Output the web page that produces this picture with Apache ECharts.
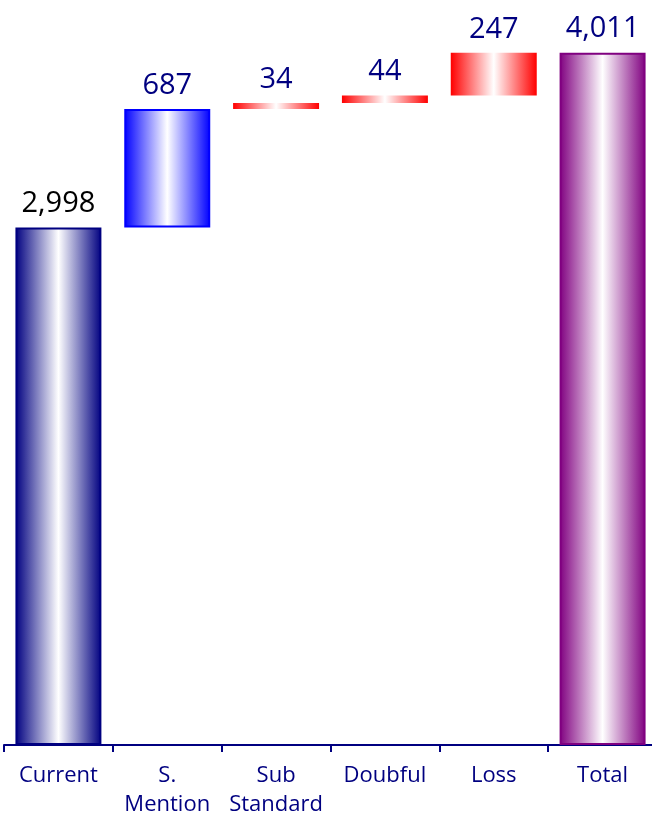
<!DOCTYPE html>
<html>
<head>
<meta charset="utf-8">
<style>
  html, body { margin: 0; padding: 0; background: #ffffff; }
  #chart { width: 652px; height: 818px; }
</style>
<script src="https://cdn.jsdelivr.net/npm/echarts@6/dist/echarts.min.js"></script>
</head>
<body>
<div id="chart"></div>
<script>
// Waterfall of classified loans
const categories = ['Current', 'S.\nMention', 'Sub\nStandard', 'Doubful', 'Loss', 'Total'];
const values = [2998, 687, 34, 44, 247, 4011];
const barColors = ['#000080', '#0000ff', '#ff0000', '#ff0000', '#ff0000', '#800080'];
const borderColors = ['#000080', '#0000ff', null, null, null, '#800080'];
const labelColors = ['#000000', '#000080', '#000080', '#000080', '#000080', '#000080'];

// Invisible base: running total for the middle steps, zero for the first and last bars
const base = [];
let running = 0;
values.forEach((v, i) => {
  if (i === 0 || i === values.length - 1) {
    base.push(0);
  } else {
    base.push(running);
  }
  if (i < values.length - 1) running += v;
});

function shade(c) {
  return new echarts.graphic.LinearGradient(0, 0, 1, 0, [
    { offset: 0, color: c },
    { offset: 0.5, color: '#ffffff' },
    { offset: 1, color: c }
  ]);
}

const chart = echarts.init(document.getElementById('chart'));
chart.setOption({
  animation: false,
  grid: { left: 4, width: 653, top: 20, bottom: 73, containLabel: false, outerBoundsMode: 'none' },
  xAxis: {
    type: 'category',
    data: categories,
    axisLine: { lineStyle: { color: '#000080', width: 2 } },
    axisTick: { show: true, length: 7, lineStyle: { color: '#000080', width: 2 } },
    axisLabel: {
      color: '#000080',
      fontFamily: 'Open Sans',
      fontSize: 22,
      lineHeight: 29,
      margin: 16,
      interval: 0
    }
  },
  yAxis: {
    type: 'value',
    min: 0,
    max: 4200,
    show: false,
    splitLine: { show: false }
  },
  series: [
    {
      type: 'bar',
      stack: 'w',
      data: base,
      itemStyle: { color: 'transparent' },
      silent: true,
      barWidth: '79%'
    },
    {
      type: 'bar',
      stack: 'w',
      barWidth: '79%',
      data: values.map((v, i) => ({
        value: v,
        itemStyle: {
          color: shade(barColors[i]),
          borderColor: borderColors[i] || 'transparent',
          borderWidth: borderColors[i] ? 2 : 0
        },
        label: { color: labelColors[i] }
      })),
      label: {
        show: true,
        position: 'top',
        distance: 9,
        fontFamily: 'Open Sans',
        fontSize: 29,
        formatter: p => p.value.toLocaleString('en-US')
      }
    }
  ]
});
</script>
</body>
</html>
